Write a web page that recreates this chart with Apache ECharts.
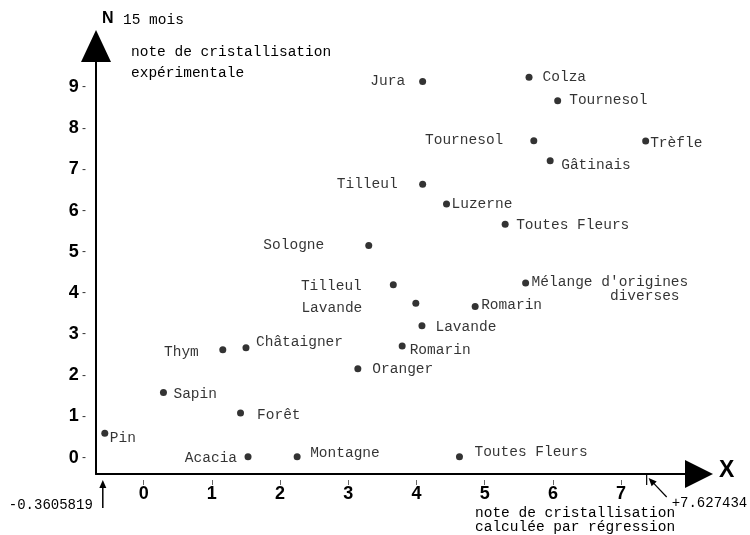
<!DOCTYPE html>
<html>
<head>
<meta charset="utf-8">
<script src="https://cdn.jsdelivr.net/npm/echarts@6/dist/echarts.min.js"></script>
<style>
  html, body { margin: 0; padding: 0; background: #fff; }
  #chart { width: 750px; height: 535px; }
</style>
</head>
<body>
<div id="chart"></div>
<script>
// Miels : note de cristallisation calculée par régression (X)
// et note expérimentale observée à 15 mois (N)

const names = [
  'Jura', 'Colza', 'Tournesol', 'Tournesol', 'Trèfle', 'Gâtinais',
  'Tilleul', 'Luzerne', 'Toutes Fleurs', 'Sologne', 'Tilleul',
  "Mélange d'origines\n         diverses",
  'Lavande', 'Romarin', 'Lavande', 'Romarin', 'Oranger', 'Thym',
  'Châtaigner', 'Sapin', 'Forêt', 'Pin', 'Acacia', 'Montagne', 'Toutes Fleurs'
];

const noteCalculee = [
  4.09, 5.65, 6.07, 5.72, 7.36, 5.96,
  4.09, 4.44, 5.30, 3.30, 3.66,
  5.60,
  3.99, 4.86, 4.08, 3.79, 3.14, 1.16,
  1.50, 0.29, 1.42, -0.57, 1.53, 2.25, 4.63
];

const noteExperimentale = [
  9.14, 9.24, 8.67, 7.70, 7.69, 7.21,
  6.64, 6.16, 5.67, 5.15, 4.20,
  4.24,
  3.75, 3.67, 3.20, 2.71, 2.16, 2.62,
  2.67, 1.58, 1.08, 0.59, 0.02, 0.02, 0.02
];

const xTicks = [0, 1, 2, 3, 4, 5, 6, 7];
const yTicks = [0, 1, 2, 3, 4, 5, 6, 7, 8, 9];

const xMinText = '-0.3605819';
const xMaxText = '+7.627434';

// label placement for each point: side, gap from the dot, vertical shift
const labelPlacement = [
  ['left', 14, 0], ['right', 10, 0], ['right', 8, -1], ['left', 27, 0],
  ['right', 1, 2], ['right', 7.5, 4], ['left', 21.5, 0], ['right', 1.5, 0],
  ['right', 7.5, 1], ['left', 41, 0], ['left', 28, 1], ['right', 2.5, 6.5],
  ['left', 50, 5], ['right', 2.5, -1.5], ['right', 10, 1], ['right', 4, 4],
  ['right', 11, 1], ['left', 20.5, 2], ['right', 6.5, -6], ['right', 6.5, 1.5],
  ['right', 13, 2.5], ['right', 1.5, 5], ['left', 7.5, 1.5], ['right', 9.5, -3.5],
  ['right', 11.5, -5]
];

const MONO = "'Liberation Mono', 'DejaVu Sans Mono', monospace";
const SANS = "'Liberation Sans', Arial, sans-serif";
const INK = '#000';
const Y_MIN = -0.40;

const points = names.map((n, i) => ({
  name: n,
  value: [noteCalculee[i], noteExperimentale[i]],
  label: {
    position: labelPlacement[i][0],
    distance: labelPlacement[i][1],
    offset: [0, labelPlacement[i][2]]
  }
}));

const chart = echarts.init(document.getElementById('chart'), null, { renderer: 'canvas' });

chart.setOption({
  animation: false,
  backgroundColor: '#fff',
  grid: { left: 96, top: 46, width: 603, height: 428 },
  xAxis: {
    type: 'value',
    min: -0.699,
    max: 8.142,
    splitLine: { show: false },
    axisLine: {
      show: true,
      onZero: false,
      symbol: ['none', 'triangle'],
      symbolSize: [28, 28],
      lineStyle: { color: INK, width: 2 }
    },
    axisTick: {
      show: true,
      customValues: xTicks,
      length: 11,
      lineStyle: { color: '#666', width: 1, type: [0, 6, 5] }
    },
    axisLabel: {
      customValues: xTicks,
      margin: 11,
      color: INK,
      fontFamily: SANS,
      fontWeight: 'bold',
      fontSize: 18
    }
  },
  yAxis: {
    type: 'value',
    min: Y_MIN,
    max: 10,
    splitLine: { show: false },
    axisLine: {
      show: true,
      onZero: false,
      symbol: ['none', 'triangle'],
      symbolSize: [30, 32],
      lineStyle: { color: INK, width: 2 }
    },
    axisTick: { show: false },
    axisLabel: {
      customValues: yTicks,
      margin: 10,
      formatter: v => '{n|' + v + '}{d| -}',
      rich: {
        n: { fontFamily: SANS, fontWeight: 'bold', fontSize: 18, color: INK },
        d: { fontFamily: SANS, fontSize: 12, color: '#333' }
      }
    }
  },
  series: [{
    type: 'scatter',
    symbol: 'circle',
    symbolSize: 7,
    itemStyle: { color: INK },
    label: {
      show: true,
      formatter: p => p.name,
      fontFamily: MONO,
      fontSize: 14.5,
      lineHeight: 14,
      color: INK
    },
    emphasis: { disabled: true },
    data: points
  }]
});

// Axis titles and the pointers to the extreme calculated notes
const xmin = Math.min(...noteCalculee);
const xmax = Math.max(...noteCalculee);
const pMin = chart.convertToPixel({ gridIndex: 0 }, [xmin, Y_MIN]);
const pMax = chart.convertToPixel({ gridIndex: 0 }, [xmax, Y_MIN]);
const axisY = pMin[1];

function txt(text, x, y, font, align) {
  return {
    type: 'text', x: x, y: y, silent: true,
    style: { text: text, font: font, fill: INK, align: align || 'left', verticalAlign: 'middle' }
  };
}
const monoFont = "14.5px " + MONO;

const hx = pMax[0] + 3, hy = axisY + 4;
const tx = pMax[0] + 21, ty = axisY + 23;
const len = Math.hypot(hx - tx, hy - ty);
const ux = (hx - tx) / len, uy = (hy - ty) / len;

chart.setOption({
  graphic: [
    txt('N', 102, 19, "bold 16px " + SANS),
    txt('15 mois', 123, 20, monoFont),
    txt('note de cristallisation', 131, 52, monoFont),
    txt('expérimentale', 131, 73, monoFont),
    txt('X', 719, 471, "bold 23px " + SANS),
    txt('note de cristallisation', 475, 513, monoFont),
    txt('calculée par régression', 475, 527, monoFont),
    // lower bound pointer
    txt(xMinText, pMin[0] - 12, 505, "14px " + MONO, 'right'),
    { type: 'line', silent: true,
      shape: { x1: pMin[0] - 2, y1: axisY + 10, x2: pMin[0] - 2, y2: axisY + 34 },
      style: { stroke: INK, lineWidth: 1.5 } },
    { type: 'polygon', silent: true,
      shape: { points: [[pMin[0] - 2, axisY + 6], [pMin[0] - 5.5, axisY + 14], [pMin[0] + 1.5, axisY + 14]] },
      style: { fill: INK } },
    // upper bound pointer
    { type: 'line', silent: true,
      shape: { x1: pMax[0] + 1, y1: axisY, x2: pMax[0] + 1, y2: axisY + 11 },
      style: { stroke: INK, lineWidth: 1.2 } },
    { type: 'line', silent: true,
      shape: { x1: tx, y1: ty, x2: hx - ux * 4, y2: hy - uy * 4 },
      style: { stroke: INK, lineWidth: 1.2 } },
    { type: 'polygon', silent: true,
      shape: { points: [
        [hx, hy],
        [hx - ux * 8 + uy * 3.5, hy - uy * 8 - ux * 3.5],
        [hx - ux * 8 - uy * 3.5, hy - uy * 8 + ux * 3.5]
      ] },
      style: { fill: INK } },
    txt(xMaxText, pMax[0] + 26, 503, "14px " + MONO)
  ]
});
</script>
</body>
</html>
